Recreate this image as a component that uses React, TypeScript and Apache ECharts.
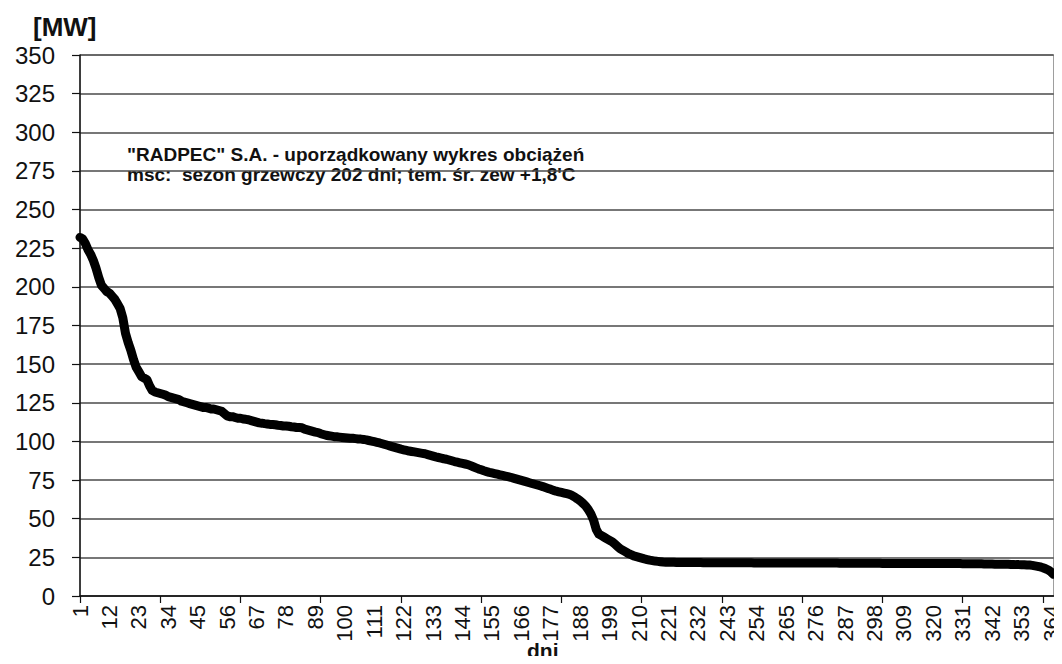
import React, { useEffect, useRef } from "react";
import * as echarts from "echarts";

// Load duration curve, values in MW for days 1..365
const load1to50 = [
  232, 231, 228, 224, 221, 217, 212, 206, 201, 199,
  197, 196, 194, 192, 189, 186, 180, 170, 164, 159,
  153, 148, 145, 142, 141, 140, 136, 133, 132, 131.5,
  131, 130.5, 130, 129, 128.5, 128, 127.5, 127, 126, 125.5,
  125, 124.5, 124, 123.5, 123, 122.5, 122, 122, 121.5, 121,
];
const load51to100 = [
  121, 120.5, 120, 119.5, 118, 116.5, 116, 116, 115.5, 115,
  115, 114.5, 114.3, 114, 113.5, 113, 112.5, 112, 111.8, 111.5,
  111.3, 111, 111, 110.8, 110.5, 110.3, 110, 110, 109.8, 109.5,
  109.3, 109, 109, 108.8, 108, 107.5, 107, 106.5, 106, 105.7,
  105, 104.5, 104, 103.7, 103.4, 103.1, 103, 102.8, 102.6, 102.4,
];
const load101to150 = [
  102.2, 102, 102, 101.8, 101.6, 101.5, 101.3, 101, 100.6, 100.2,
  99.8, 99.4, 99, 98.5, 98, 97.5, 97, 96.5, 96, 95.5,
  95, 94.6, 94.2, 93.8, 93.5, 93.2, 92.9, 92.6, 92.3, 92,
  91.5, 91, 90.5, 90, 89.6, 89.2, 88.8, 88.5, 88, 87.5,
  87, 86.6, 86.2, 85.8, 85.4, 85, 84.3, 83.6, 82.9, 82.2,
];
const load151to220 = [
  81.6, 81, 80.5, 80, 79.6, 79.2, 78.8, 78.4, 78, 77.6,
  77.2, 76.8, 76.3, 75.8, 75.3, 74.8, 74.3, 73.8, 73.3, 72.8,
  72.3, 71.8, 71.3, 70.8, 70.2, 69.6, 69, 68.3, 67.8, 67.4,
  67, 66.6, 66.2, 65.8, 65, 64, 62.8, 61.5, 60, 58.3,
  56, 53, 49, 43, 40, 39, 38, 37, 36, 35,
  33.5, 32, 30.5, 29.5, 28.5, 27.5, 26.8, 26, 25.5, 25,
  24.5, 24, 23.6, 23.2, 22.9, 22.6, 22.4, 22.2, 22, 21.9,
];
const load221to365 = [
  21.8, 21.8, 21.8, 21.7, 21.7, 21.7, 21.7, 21.6, 21.6, 21.6,
  21.6, 21.6, 21.6, 21.5, 21.5, 21.5, 21.5, 21.5, 21.5, 21.5,
  21.5, 21.5, 21.5, 21.5, 21.5, 21.5, 21.5, 21.5, 21.5, 21.5,
  21.5, 21.5, 21.4, 21.4, 21.4, 21.4, 21.4, 21.4, 21.4, 21.4,
  21.4, 21.4, 21.4, 21.4, 21.4, 21.4, 21.4, 21.4, 21.4, 21.4,
  21.3, 21.3, 21.3, 21.3, 21.3, 21.3, 21.3, 21.3, 21.3, 21.3,
  21.3, 21.3, 21.3, 21.3, 21.2, 21.2, 21.2, 21.2, 21.2, 21.2,
  21.2, 21.2, 21.2, 21.2, 21.2, 21.2, 21.2, 21.2, 21.2, 21.2,
  21.1, 21.1, 21.1, 21.1, 21.1, 21.1, 21.1, 21.1, 21.1, 21.1,
  21.1, 21.1, 21.1, 21, 21, 21, 21, 21, 21, 21,
  21, 21, 21, 21, 21, 21, 21, 21, 21, 21,
  20.9, 20.9, 20.9, 20.9, 20.8, 20.8, 20.8, 20.8, 20.7, 20.7,
  20.7, 20.7, 20.6, 20.6, 20.6, 20.5, 20.5, 20.5, 20.4, 20.4,
  20.3, 20.3, 20.2, 20.2, 20.1, 20, 19.8, 19.5, 19.2, 18.8,
  18.3, 17.6, 16.8, 15.6, 14,
];

const loadValues = [
  ...load1to50,
  ...load51to100,
  ...load101to150,
  ...load151to220,
  ...load221to365,
];
const days = loadValues.map((_, i) => String(i + 1));

const yMin = 0;
const yMax = 350;
const yStep = 25;

const titleLine1 = '"RADPEC" S.A. - uporządkowany wykres obciążeń';
const titleLine2 = "msc:  sezon grzewczy 202 dni; tem. śr. zew +1,8'C";
const yUnit = "[MW]";
const xName = "dni";

const FONT = "'Liberation Sans', Arial, sans-serif";

export default function App() {
  const ref = useRef<HTMLDivElement>(null);
  useEffect(() => {
    if (!ref.current) return;
    const chart = echarts.init(ref.current, null, { renderer: "svg" });
    chart.setOption({
      animation: false,
      backgroundColor: "#ffffff",
      grid: {
        left: 80,
        right: 5,
        top: 55,
        bottom: 68,
        show: true,
        borderColor: "#8a8a8a",
        borderWidth: 1,
      },
      xAxis: {
        type: "category",
        data: days,
        boundaryGap: false,
        axisLine: { lineStyle: { color: "#111", width: 1.5 } },
        axisTick: {
          interval: 29,
          length: 7,
          lineStyle: { color: "#111", width: 1.2 },
        },
        axisLabel: {
          interval: 10,
          rotate: 90,
          margin: 9,
          color: "#111",
          fontFamily: FONT,
          fontSize: 22,
        },
        splitLine: { show: false },
      },
      yAxis: {
        type: "value",
        min: yMin,
        max: yMax,
        interval: yStep,
        axisLine: { show: true, lineStyle: { color: "#111", width: 1.5 } },
        axisTick: { show: true, length: 8, lineStyle: { color: "#111", width: 1.2 } },
        axisLabel: {
          margin: 25,
          color: "#111",
          fontFamily: FONT,
          fontSize: 24,
        },
        splitLine: { lineStyle: { color: "#4a4a4a", width: 1.5 } },
      },
      series: [
        {
          type: "line",
          data: loadValues,
          showSymbol: false,
          symbol: "none",
          lineStyle: { color: "#000", width: 9, join: "round", cap: "round" },
        },
      ],
      graphic: [
        {
          type: "text",
          left: 33,
          top: 14,
          style: {
            text: yUnit,
            fontFamily: FONT,
            fontSize: 26,
            fontWeight: "bold",
            fill: "#111",
          },
        },
        {
          type: "text",
          left: 127,
          top: 145,
          style: {
            text: titleLine1,
            fontFamily: FONT,
            fontSize: 19,
            fontWeight: "bold",
            fill: "#111",
          },
        },
        {
          type: "text",
          left: 127,
          top: 165,
          style: {
            text: titleLine2,
            fontFamily: FONT,
            fontSize: 19,
            fontWeight: "bold",
            fill: "#111",
          },
        },
        {
          type: "text",
          left: 527,
          top: 640,
          style: {
            text: xName,
            fontFamily: FONT,
            fontSize: 21,
            lineHeight: 21,
            fontWeight: "bold",
            fill: "#111",
          },
        },
      ],
    });
    return () => chart.dispose();
  }, []);
  return <div ref={ref} style={{ width: 1062, height: 664, margin: -8 }} />;
}
